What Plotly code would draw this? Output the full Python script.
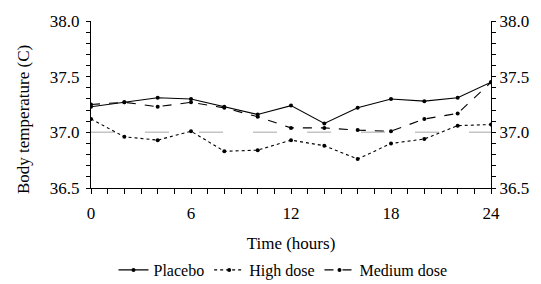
import plotly.graph_objects as go

hours = [0, 2, 4, 6, 8, 10, 12, 14, 16, 18, 20, 22, 24]
placebo = [37.23, 37.27, 37.31, 37.30, 37.23, 37.16, 37.24, 37.08, 37.22, 37.30, 37.28, 37.31, 37.45]
high_dose = [37.12, 36.96, 36.93, 37.01, 36.83, 36.84, 36.93, 36.88, 36.76, 36.90, 36.94, 37.06, 37.07]
medium_dose = [37.25, 37.27, 37.23, 37.27, 37.22, 37.14, 37.04, 37.04, 37.02, 37.01, 37.12, 37.17, 37.45]
reference_x = [0, 24]
reference_y = [37.0, 37.0]
y_ticks = [36.5, 37.0, 37.5, 38.0]
y_ticktext = ["36.5", "37.0", "37.5", "38.0"]
x_ticks = [0, 6, 12, 18, 24]

font = "Times New Roman, Liberation Serif, Times, serif"
tf = dict(family=font, size=17, color="black")

# the page body has an 8px margin, so the figure is 8px smaller than the window
W, H = 533, 276

fig = go.Figure()
fig.add_trace(go.Scatter(x=reference_x, y=reference_y, mode="lines",
                         line=dict(color="#c4c4c4", width=1.5, dash="24px,30px"),
                         showlegend=False, hoverinfo="skip"))
fig.add_trace(go.Scatter(x=hours, y=placebo, name="Placebo", mode="lines+markers",
                         line=dict(color="black", width=1.1, dash="solid"),
                         marker=dict(color="black", size=4)))
fig.add_trace(go.Scatter(x=hours, y=high_dose, name="High dose", mode="lines+markers",
                         line=dict(color="black", width=1.1, dash="dot"),
                         marker=dict(color="black", size=4)))
fig.add_trace(go.Scatter(x=hours, y=medium_dose, name="Medium dose", mode="lines+markers",
                         line=dict(color="black", width=1.1, dash="dash"),
                         marker=dict(color="black", size=4)))
fig.add_trace(go.Scatter(x=reference_x, y=reference_y, yaxis="y2", mode="lines",
                         line=dict(color="rgba(0,0,0,0)"), showlegend=False, hoverinfo="skip"))

fig.update_layout(
    width=W, height=H,
    margin=dict(l=83, r=50, t=13, b=96, autoexpand=False),
    plot_bgcolor="white", paper_bgcolor="white",
    font=tf,
    showlegend=True,
    legend=dict(orientation="h", x=0.48, xanchor="center",
                yref="container", y=(H - 262) / H, yanchor="middle",
                font=dict(family=font, size=16, color="black"), itemwidth=30, tracegroupgap=0),
    xaxis=dict(range=[0, 24], tickvals=x_ticks, ticks="outside", ticklen=5,
               tickcolor="black", showline=True, linecolor="black", linewidth=1,
               showgrid=False, zeroline=False, tickfont=tf, automargin=False,
               minor=dict(ticks="outside", dtick=1, ticklen=5, tickcolor="black"),
               title=dict(text="Time (hours)", standoff=15, font=tf),
               ticklabelstandoff=5),
    yaxis=dict(range=[36.5, 38.0], tickvals=y_ticks, ticktext=y_ticktext,
               ticks="outside", ticklen=4, tickcolor="black", showline=True, linecolor="black",
               linewidth=1, showgrid=False, zeroline=False, tickfont=tf, automargin=False,
               ticklabelstandoff=3,
               minor=dict(ticks="outside", dtick=0.1, ticklen=4, tickcolor="black")),
    yaxis2=dict(range=[36.5, 38.0], overlaying="y", side="right",
                tickvals=y_ticks, ticktext=y_ticktext, automargin=False,
                ticks="outside", ticklen=4, tickcolor="black", showline=True, linecolor="black",
                linewidth=1, showgrid=False, zeroline=False, tickfont=tf,
                ticklabelstandoff=0,
                minor=dict(ticks="outside", dtick=0.1, ticklen=4, tickcolor="black")),
    annotations=[dict(text="Body temperature (C)", xref="paper", yref="paper",
                      x=(15 - 83) / 400, y=(180 - 112) / 167, xanchor="center", yanchor="middle",
                      textangle=-90, showarrow=False, font=tf)],
)

fig.write_html("out.html")
